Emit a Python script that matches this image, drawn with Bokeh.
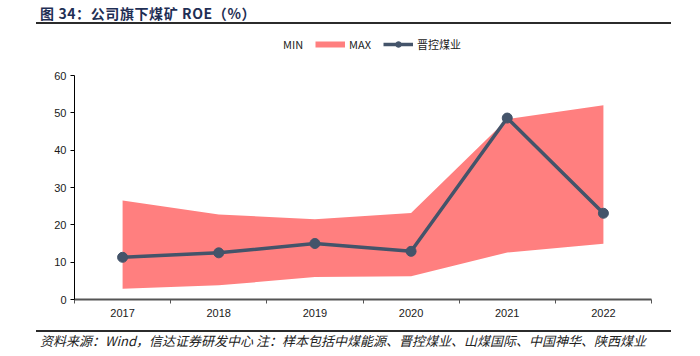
from bokeh.plotting import figure
from bokeh.models import (Range1d, FixedTicker, LinearAxis, Legend, LegendItem,
                          ColumnDataSource, Div)
from bokeh.layouts import column
from bokeh.embed import file_html
from bokeh.resources import INLINE

# ---- data ----
years = ["2017", "2018", "2019", "2020", "2021", "2022"]
roe_jk = [11.3, 12.5, 15.0, 12.9, 48.6, 23.1]     # 晋控煤业
roe_min = [2.9, 3.8, 6.0, 6.2, 12.6, 14.9]       # MIN
roe_max = [26.5, 22.8, 21.5, 23.2, 48.3, 52.0]   # MAX
y_ticks = [0, 10, 20, 30, 40, 50, 60]
series_names = ["MIN", "MAX", "晋控煤业"]
title_text = "图 34：公司旗下煤矿 ROE（%）"
source_text = "资料来源：Wind，信达证券研发中心 注：样本包括中煤能源、晋控煤业、山煤国际、中国神华、陕西煤业"

PINK = "#FF7F7F"
NAVY = "#44546A"

# layout (pixels): frame spans the legend area too; the y axis line is bounded to 0..60
FIG_H = 296
TOP, BOTTOM = 2, 27            # frame from 32 to 299 in page pixels
Y_AXIS_TOP_PX = 43             # where 60 sits inside the frame (75 - 32)
frame_h = FIG_H - TOP - BOTTOM
y_max = y_ticks[-1]
y_end = y_max * frame_h / (frame_h - Y_AXIS_TOP_PX)

xs = [i + 0.5 for i in range(len(years))]
src = ColumnDataSource(dict(x=xs, jk=roe_jk, lo=roe_min, hi=roe_max))

p = figure(width=700, height=FIG_H, output_backend="svg", toolbar_location=None,
           x_range=Range1d(0, len(years)), y_range=Range1d(0, y_end),
           min_border_left=74, min_border_right=49, min_border_top=TOP, min_border_bottom=BOTTOM,
           x_axis_type=None, y_axis_type=None)
p.outline_line_color = None
p.background_fill_color = "white"
p.border_fill_color = "white"

p.varea(x="x", y1="lo", y2="hi", source=src, fill_color=PINK, fill_alpha=1.0)
r_line = p.line(x="x", y="jk", source=src, line_color=NAVY, line_width=3.5)
r_pts = p.scatter(x="x", y="jk", source=src, size=10, fill_color=NAVY, line_color=NAVY)

# legend-only renderers (nothing drawn in the plot)
nan = float("nan")
r_min = p.line(x=[nan], y=[nan], line_alpha=0)
r_max = p.line(x=[nan], y=[nan], line_color=PINK, line_width=6)

legend = Legend(items=[LegendItem(label=series_names[0], renderers=[r_min]),
                       LegendItem(label=series_names[1], renderers=[r_max]),
                       LegendItem(label=series_names[2], renderers=[r_line, r_pts])],
                location=(175, 247), orientation="horizontal",
                glyph_width=30, glyph_height=14, label_height=14, label_standoff=4,
                spacing=12, padding=0, margin=0,
                border_line_alpha=0, background_fill_alpha=0,
                label_text_font="Noto Sans CJK SC", label_text_font_size="11px",
                label_text_color="#222222")
p.add_layout(legend, "center")

yaxis = LinearAxis(ticker=FixedTicker(ticks=y_ticks), bounds=(0, y_max),
                   axis_line_color="black", axis_line_width=1,
                   major_tick_out=4, major_tick_in=0, minor_tick_out=0, minor_tick_in=0,
                   major_tick_line_color="black",
                   major_label_text_font="Liberation Sans", major_label_text_font_size="11px",
                   major_label_text_color="#1a1a1a", major_label_standoff=4)
p.add_layout(yaxis, "left")

xaxis = LinearAxis(ticker=FixedTicker(ticks=xs, minor_ticks=list(range(len(years) + 1))),
                   major_label_overrides={x: y for x, y in zip(xs, years)},
                   axis_line_color="#555555", axis_line_width=2,
                   major_tick_out=0, major_tick_in=0,
                   minor_tick_out=4, minor_tick_in=0, minor_tick_line_color="#555555",
                   major_label_text_font="Liberation Sans", major_label_text_font_size="11px",
                   major_label_text_color="#1a1a1a", major_label_standoff=5)
p.add_layout(xaxis, "below")

title_html = (
    '<div style="position:relative;width:700px;height:30px;margin:0;padding:0;">'
    '<div style="position:absolute;left:36px;top:22px;width:635px;height:0;'
    'border-top:2px solid #2b2b2b;"></div>'
    '<div style="position:absolute;left:40px;top:4px;font-family:\'Noto Sans CJK SC\';'
    'font-weight:bold;font-size:14px;letter-spacing:0.6px;line-height:18px;color:#1f2f55;'
    'white-space:nowrap;">'
    f'{title_text}</div></div>'
)
footer_html = (
    '<div style="position:relative;width:700px;height:30px;margin:0;padding:0;">'
    '<div style="position:absolute;left:36px;top:4px;width:635px;height:0;'
    'border-top:2px solid #2b2b2b;"></div>'
    '<div style="position:absolute;left:40px;top:7px;font-family:\'Noto Sans CJK SC\';'
    'font-style:italic;font-size:13px;line-height:16px;color:#222222;white-space:nowrap;">'
    f'{source_text}</div></div>'
)
title_div = Div(text=title_html, width=700, height=30, margin=0)
footer_div = Div(text=footer_html, width=700, height=30, margin=0)

layout = column(title_div, p, footer_div, spacing=0, margin=0)

open("out.html", "w").write(file_html(layout, INLINE))
